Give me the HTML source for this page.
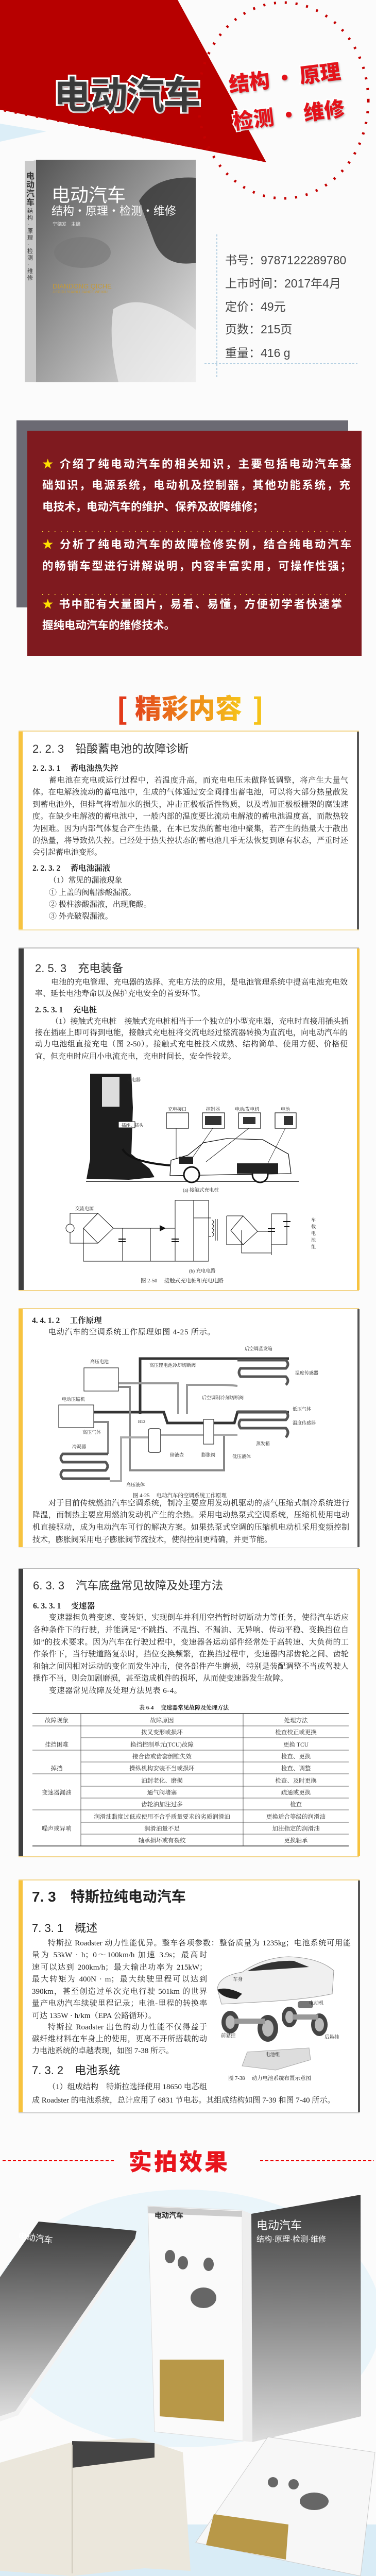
<!DOCTYPE html>
<html><head><meta charset="utf-8">
<style>
*{margin:0;padding:0;box-sizing:border-box}
html,body{width:730px;height:5035px;overflow:hidden;background:#fbfbfb}
#r{width:730px;height:5035px;position:relative;overflow:hidden;background:#fbfbfb;font-family:"Liberation Sans","Noto Sans CJK SC",sans-serif}
.a{position:absolute;white-space:nowrap}
.s{font-family:"Liberation Serif","Noto Serif CJK SC",serif;color:#222}
.t{font-size:15px;line-height:16px;text-align:justify;text-align-last:justify;white-space:nowrap}
.tl{text-align-last:left}
.w{color:#fff;font-weight:bold;font-size:21.5px;text-align-last:justify;text-align:justify;left:82px;width:600px}
.info{left:437px;font-size:23px;color:#444}
.tb{position:absolute;font-family:"Liberation Serif","Noto Serif CJK SC",serif;font-size:11.5px;color:#333;text-align:center}
</style></head><body><div id="r">
<svg class="a" style="left:0;top:0" width="730" height="5035" viewBox="0 0 730 5035">
<defs>
<linearGradient id="bk" x1="0" y1="0" x2="1" y2="1"><stop offset="0" stop-color="#555"/><stop offset=".45" stop-color="#9a9a9a"/><stop offset="1" stop-color="#e8e8e8"/></linearGradient>
<linearGradient id="bk2" x1="0" y1="0" x2="0" y2="1"><stop offset="0" stop-color="#3a3a3a"/><stop offset=".5" stop-color="#8a8a8a"/><stop offset="1" stop-color="#ddd"/></linearGradient>
</defs>
<polygon points="0,240 90,255 0,275" fill="#dceef7"/>
<polygon points="0,0 345,0 517,315 0,213" fill="#b70000"/>
<path d="M8,214 L517,312" stroke="#c40000" stroke-width="5" stroke-dasharray="4,17"/>
<ellipse cx="550" cy="195" rx="165" ry="190" fill="none" stroke="#c40000" stroke-width="5" stroke-dasharray="4,17"/>
<polygon points="48,318 70,310 380,318 380,732 70,742 48,738" fill="#d8d8d8"/>
<rect x="70" y="310" width="310" height="432" fill="url(#bk)"/>
<rect x="48" y="312" width="22" height="430" fill="#c9c9c9"/>
<path d="M270,390 Q300,340 380,345 L380,510 Q320,520 300,470 Z" fill="#2b2b2b" opacity=".75"/>
<path d="M220,600 Q280,560 380,640 L380,742 L230,742 Q210,660 220,600Z" fill="#f1f1f1" opacity=".7"/>
<ellipse cx="160" cy="490" rx="55" ry="30" fill="#777" opacity=".6"/>
<line x1="421" y1="455" x2="421" y2="735" stroke="#6fa6c9" stroke-width="1" stroke-dasharray="4,3"/>
<line x1="397" y1="706" x2="694" y2="706" stroke="#6fa6c9" stroke-width="1" stroke-dasharray="4,3"/>
<rect x="32" y="816" width="644" height="363" fill="#6b6a73"/>
<rect x="53" y="836" width="649" height="437" fill="#7f1a1f"/>
<line x1="82" y1="1032" x2="678" y2="1032" stroke="#f2d03a" stroke-width="2" stroke-dasharray="1.5,10.5"/>
<line x1="82" y1="1154" x2="678" y2="1154" stroke="#f2d03a" stroke-width="2" stroke-dasharray="1.5,10.5"/>
<g>
<rect x="36" y="1420" width="661" height="384" fill="#fff"/><rect x="36" y="1420" width="8" height="384" fill="#f7c340"/><rect x="693" y="1420" width="4" height="384" fill="#555"/>
<rect x="36" y="1418" width="661" height="2" fill="#f3d58a"/><rect x="36" y="1804" width="661" height="2" fill="#f3e1a8"/>
<rect x="36" y="1841" width="661" height="663" fill="#fff"/><rect x="36" y="1841" width="10" height="663" fill="#3f3f3f"/><rect x="693" y="1841" width="5" height="663" fill="#f7c340"/>
<rect x="36" y="1839" width="661" height="2" fill="#bbb"/><rect x="36" y="2504" width="661" height="2" fill="#f3d58a"/>
<rect x="36" y="2541" width="661" height="462" fill="#fff"/><rect x="36" y="2541" width="8" height="462" fill="#f7c340"/><rect x="694" y="2541" width="4" height="462" fill="#555"/>
<rect x="36" y="2539" width="661" height="2" fill="#f3d58a"/><rect x="36" y="3003" width="661" height="2" fill="#eee"/>
<rect x="36" y="3045" width="661" height="558" fill="#fff"/><rect x="36" y="3045" width="9" height="558" fill="#3f3f3f"/><rect x="694" y="3045" width="5" height="558" fill="#f7c340"/>
<rect x="36" y="3043" width="661" height="2" fill="#bbb"/><rect x="36" y="3603" width="661" height="2" fill="#f3d58a"/>
<rect x="36" y="3650" width="662" height="450" fill="#fff"/><rect x="36" y="3650" width="8" height="450" fill="#f7c340"/><rect x="695" y="3650" width="4" height="450" fill="#555"/>
<rect x="36" y="3648" width="662" height="2" fill="#f3d58a"/><rect x="36" y="4100" width="662" height="2" fill="#ccc"/>
</g>
<g stroke="#111" fill="none">
<path d="M175,2084 L255,2084 L258,2150 L255,2240 L290,2268 L300,2285 L250,2290 L168,2288 L175,2250Z" fill="#1d1d1d" stroke="none"/>
<rect x="198" y="2090" width="34" height="58" fill="#ddd" stroke="none"/>
<path d="M238,2230 Q250,2255 330,2262" stroke-width="4"/>
<line x1="167" y1="2293" x2="580" y2="2293" stroke-width="1.5"/>
<rect x="230" y="2177" width="32" height="12" fill="#fff" stroke-width="1"/>
<path d="M330,2282 L332,2252 L365,2242 L395,2218 L440,2210 L510,2212 L560,2240 L565,2278 L330,2282" fill="#fff" stroke-width="1.3"/>
<circle cx="372" cy="2280" r="15" fill="#fff" stroke-width="3"/><circle cx="505" cy="2280" r="15" fill="#fff" stroke-width="3"/>
<rect x="348" y="2245" width="27" height="14" fill="#222" stroke="none"/><rect x="460" y="2258" width="80" height="20" fill="#222" stroke="none"/>
<g fill="#fff" stroke-width="1.2"><rect x="323" y="2160" width="43" height="30"/><rect x="393" y="2160" width="43" height="30"/><rect x="463" y="2160" width="43" height="30"/><rect x="534" y="2160" width="41" height="30"/></g>
<g fill="#333" stroke="none"><rect x="398" y="2166" width="32" height="18"/><rect x="472" y="2168" width="24" height="14"/><rect x="551" y="2166" width="18" height="18"/></g>
<g stroke-width=".8"><line x1="342" y1="2190" x2="342" y2="2250"/><line x1="413" y1="2190" x2="375" y2="2245"/><line x1="483" y1="2190" x2="400" y2="2255"/><line x1="554" y1="2190" x2="520" y2="2258"/></g>
<g stroke-width="1">
<circle cx="136" cy="2384" r="8"/>
<path d="M136,2376 V2355 H190 M136,2392 V2413 H190 M190,2355 L220,2384 L190,2413 L162,2384 Z M162,2384 V2448 H405 M220,2384 H340 M238,2384 V2448 M292,2384 V2448 M340,2384 V2448 M340,2384 V2330 H405 V2448 M376,2330 V2448 M376,2364 H410 M405,2400 H410 M440,2360 V2416 H472 L500,2390 L472,2360 H440 M472,2360 L448,2388 L472,2416 M500,2390 H527 V2356 H557 V2416 H527 V2432 H469 V2388 M527,2356 V2436"/>
<path d="M412,2368 q6,4 0,8 q6,4 0,8 q6,4 0,8 q6,4 0,8 M418,2366 V2408 M422,2366 V2408"/>
</g>
<g fill="#111" stroke="none"><path d="M310,2378 L322,2384 L310,2390Z"/><rect x="230" y="2404" width="14" height="2"/><rect x="230" y="2409" width="14" height="2"/><rect x="333" y="2404" width="14" height="2"/><rect x="333" y="2409" width="14" height="2"/><rect x="520" y="2384" width="14" height="2"/><rect x="520" y="2389" width="14" height="2"/><rect x="550" y="2370" width="14" height="2"/><rect x="552" y="2380" width="10" height="2"/></g>
</g>
<g fill="none">
<path d="M272,2745 V2637 H561" stroke="#333" stroke-width="5"/>
<path d="M182,2741 H318 L325,2762 H455 L461,2741 H561" stroke="#333" stroke-width="5"/>
<path d="M230,2685 H346 V2745 M363,2745 V2688 H430 Q445,2688 461,2690" stroke="#999" stroke-width="4"/>
<path d="M230,2692 H252 V2854 H435 V2785 M182,2760 H210 V2822" stroke="#888" stroke-width="4"/>
<path d="M213,2875 H235 V2790 H290 L295,2785 H461" stroke="#aaa" stroke-width="4"/>
<g stroke="#555" stroke-width="5"><path d="M461,2640 H555 Q563,2648 555,2656 H467 Q461,2664 467,2672 H555 Q563,2680 555,2688"/><path d="M461,2740 H555 Q563,2748 555,2756 H467 Q461,2764 467,2772 H555 Q563,2780 555,2790"/><path d="M210,2822 H122 Q114,2830 122,2838 H205 Q213,2846 205,2854 H122 Q114,2862 122,2870 H213"/></g>
<rect x="163" y="2655" width="67" height="45" fill="#fff" stroke="#333" stroke-width="1.2"/>
<rect x="114" y="2727" width="68" height="44" fill="#fff" stroke="#333" stroke-width="1.2"/>
<rect x="288" y="2773" width="24" height="46" rx="4" fill="#fff" stroke="#333" stroke-width="1.5"/>
<rect x="395" y="2755" width="20" height="48" fill="#fff" stroke="#333" stroke-width="1.2"/>
</g>
<g stroke="#333">
<line x1="63" y1="3326" x2="677" y2="3326" stroke-width="1.5"/><line x1="63" y1="3583" x2="677" y2="3583" stroke-width="1.5"/>
<g stroke-width=".8"><line x1="63" y1="3350" x2="677" y2="3350"/><line x1="157" y1="3373" x2="677" y2="3373"/><line x1="63" y1="3397" x2="677" y2="3397"/><line x1="157" y1="3420" x2="677" y2="3420"/><line x1="63" y1="3443" x2="677" y2="3443"/><line x1="157" y1="3467" x2="677" y2="3467"/><line x1="157" y1="3490" x2="677" y2="3490"/><line x1="63" y1="3513" x2="677" y2="3513"/><line x1="157" y1="3537" x2="677" y2="3537"/><line x1="157" y1="3560" x2="677" y2="3560"/>
<line x1="157" y1="3326" x2="157" y2="3583"/><line x1="472" y1="3326" x2="472" y2="3583"/></g>
</g>
<path d="M422,3860 Q425,3835 470,3828 Q510,3800 560,3798 Q620,3800 648,3825 L645,3870 Q600,3880 520,3885 L430,3890Z" fill="#f0f0f0" stroke="#999"/>
<path d="M480,3826 Q520,3804 570,3806 L600,3818 Z" fill="#333"/>
<path d="M422,3862 Q440,3855 470,3870 L460,3880 Q430,3878 422,3862Z" fill="#222"/>
<g fill="#444"><ellipse cx="447" cy="3925" rx="17" ry="22"/><ellipse cx="520" cy="3937" rx="20" ry="26"/><ellipse cx="562" cy="3915" rx="15" ry="20"/><ellipse cx="620" cy="3930" rx="16" ry="22"/></g>
<g fill="#bbb"><ellipse cx="447" cy="3925" rx="9" ry="13"/><ellipse cx="520" cy="3937" rx="11" ry="16"/><ellipse cx="562" cy="3915" rx="8" ry="12"/><ellipse cx="620" cy="3930" rx="9" ry="13"/></g>
<rect x="455" y="3918" width="60" height="10" fill="#999"/><rect x="568" y="3910" width="50" height="10" fill="#999"/><rect x="578" y="3884" width="30" height="14" rx="5" fill="#777"/>
<polygon points="480,3983 600,3975 603,3998 535,4018 470,4010" fill="#ddd" stroke="#aaa"/>
<line x1="5" y1="4194" x2="225" y2="4194" stroke="#e00" stroke-width="2" stroke-dasharray="6,4"/>
<line x1="505" y1="4194" x2="726" y2="4194" stroke="#e00" stroke-width="2" stroke-dasharray="6,4"/>
<ellipse cx="360" cy="4500" rx="380" ry="250" fill="#eaf5fa"/>
<rect x="0" y="4900" width="730" height="135" fill="#d9ecf6"/>
<polygon points="0,4420 75,4312 265,4330 262,4345 30,4680 0,4690" fill="url(#bk2)"/>
<polygon points="0,4690 30,4680 262,4345 266,4350 35,4688 0,4700" fill="#f2f2f2"/>
<polygon points="287,4282 470,4290 472,4738 300,4720" fill="#fafafa" stroke="#ddd"/>
<polygon points="288,4283 470,4292 470,4303 288,4296" fill="#ccc"/>
<polygon points="470,4290 488,4297 490,4740 472,4738" fill="#eee"/>
<polygon points="488,4297 700,4260 701,4690 490,4740" fill="url(#bk2)"/>
<polygon points="310,4580 435,4580 435,4700 310,4690" fill="#b89848"/>
<g fill="#666"><ellipse cx="330" cy="4380" rx="10" ry="13"/><ellipse cx="355" cy="4392" rx="10" ry="13"/><ellipse cx="405" cy="4395" rx="10" ry="13"/><ellipse cx="395" cy="4460" rx="25" ry="20"/></g>
<polygon points="0,4780 140,4740 260,4732 310,4745 355,4760 370,4990 280,4985 140,5000 0,4990" fill="#ebe7dc"/>
<polygon points="140,4738 300,4742 300,4770 140,4790" fill="#444"/>
<line x1="140" y1="4745" x2="140" y2="4995" stroke="#cfcabc" stroke-width="2"/>
<polygon points="520,4730 728,4760 700,5000 380,4935" fill="#f7f7f7" stroke="#ccc"/>
<polygon points="415,4880 560,4900 555,4968 400,4940" fill="#b89848"/>
<g fill="#666"><ellipse cx="530" cy="4818" rx="10" ry="10"/><ellipse cx="570" cy="4822" rx="10" ry="10"/><ellipse cx="610" cy="4855" rx="28" ry="17"/></g>
</svg>

<div class="a" style="left:104px;top:126px;font-size:73px;font-weight:bold;color:#3a3a3a;letter-spacing:-2px;-webkit-text-stroke:7px #fff;paint-order:stroke fill;text-shadow:2px 3px 3px rgba(0,0,0,.3);font-family:'Noto Sans CJK SC',sans-serif">电动汽车</div>
<div class="a" style="left:444px;top:133px;font-size:40px;font-weight:900;color:#e4121a;-webkit-text-stroke:5px #fff;paint-order:stroke fill;transform:rotate(-7deg);transform-origin:left;text-shadow:1px 2px 3px rgba(0,0,0,.3);font-family:'Noto Sans CJK SC',sans-serif">结构 · 原理</div>
<div class="a" style="left:452px;top:205px;font-size:40px;font-weight:900;color:#e4121a;-webkit-text-stroke:5px #fff;paint-order:stroke fill;transform:rotate(-7deg);transform-origin:left;text-shadow:1px 2px 3px rgba(0,0,0,.3);font-family:'Noto Sans CJK SC',sans-serif">检测 · 维修</div>
<div class="a" style="left:100px;top:350px;font-size:36px;color:#fff;font-family:'Noto Sans CJK SC',sans-serif">电动汽车</div>
<div class="a" style="left:100px;top:392px;font-size:22px;color:#fff;font-family:'Noto Sans CJK SC',sans-serif">结构·原理·检测·维修</div>
<div class="a" style="left:102px;top:428px;font-size:9px;color:#eee">宁德发　主编</div>
<div class="a" style="left:102px;top:548px;font-size:13px;color:#c49a3a">DIANDONG QICHE</div>
<div class="a" style="left:102px;top:564px;font-size:7px;color:#c49a3a">JIEGOU YUANLI JIANCE WEIXIU</div>
<div class="a" style="left:51px;top:334px;font-size:16px;line-height:17px;color:#333;white-space:normal;width:16px;font-weight:bold">电动汽车</div>
<div class="a" style="left:53px;top:404px;font-size:11px;line-height:13px;color:#333;white-space:normal;width:12px">结构·原理·检测·维修</div>
<div class="a info" style="top:486px">书号：9787122289780</div>
<div class="a info" style="top:531px">上市时间：2017年4月</div>
<div class="a info" style="top:576px">定价：49元</div>
<div class="a info" style="top:620px">页数：215页</div>
<div class="a info" style="top:666px">重量：416 g</div>

<div class="a w" style="top:884px"><span style="color:#ffe000">★</span> 介绍了纯电动汽车的相关知识，主要包括电动汽车基</div>
<div class="a w" style="top:925px;width:598px">础知识，电源系统，电动机及控制器，其他功能系统，充</div>
<div class="a w" style="top:967px;text-align-last:left">电技术，电动汽车的维护、保养及故障维修；</div>
<div class="a w" style="top:1040px"><span style="color:#ffe000">★</span> 分析了纯电动汽车的故障检修实例，结合纯电动汽车</div>
<div class="a w" style="top:1082px">的畅销车型进行讲解说明，内容丰富实用，可操作性强；</div>
<div class="a w" style="top:1156px;width:582px"><span style="color:#ffe000">★</span> 书中配有大量图片，易看、易懂，方便初学者快速掌</div>
<div class="a w" style="top:1197px;text-align-last:left">握纯电动汽车的维修技术。</div>

<div class="a" style="left:226px;top:1344px;font-size:56px;font-weight:900;line-height:60px;color:#e23a1a;font-family:'Noto Sans CJK SC',sans-serif">[</div>
<div class="a" style="left:262px;top:1342px;font-size:52px;font-weight:900;line-height:60px;background:linear-gradient(90deg,#e3461c,#f6c41a);-webkit-background-clip:text;color:transparent;font-family:'Noto Sans CJK SC',sans-serif">精彩内容</div>
<div class="a" style="left:490px;top:1344px;font-size:56px;font-weight:900;line-height:60px;color:#f5c21a;font-family:'Noto Sans CJK SC',sans-serif">]</div>

<div class="a" style="left:63px;top:1436px;font-size:22px;color:#333">2. 2. 3　铅酸蓄电池的故障诊断</div>
<div class="a s" style="left:63px;top:1479px;font-size:15.5px;font-weight:bold">2. 2. 3. 1　 蓄电池热失控</div>
<div class="a s t" style="left:95px;top:1507px;width:581px">蓄电池在充电或运行过程中，若温度升高，而充电电压未做降低调整，将产生大量气</div>
<div class="a s t" style="left:63px;top:1530px;width:613px">体。在电解液流动的蓄电池中，生成的气体通过安全阀排出蓄电池，可以将大部分热量散发</div>
<div class="a s t" style="left:63px;top:1554px;width:613px">到蓄电池外，但排气将增加水的损失，冲击正极板活性物质，以及增加正极板栅架的腐蚀速</div>
<div class="a s t" style="left:63px;top:1577px;width:613px">度。在缺少电解液的蓄电池中，一般内部的温度要比流动电解液的蓄电池温度高，而散热较</div>
<div class="a s t" style="left:63px;top:1601px;width:613px">为困难。因为内部气体复合产生热量，在本已发热的蓄电池中聚集，若产生的热量大于散出</div>
<div class="a s t" style="left:63px;top:1624px;width:613px">的热量，将导致热失控。已经处于热失控状态的蓄电池几乎无法恢复到原有状态，严重时还</div>
<div class="a s t tl" style="left:63px;top:1647px">会引起蓄电池变形。</div>
<div class="a s" style="left:63px;top:1673px;font-size:15.5px;font-weight:bold">2. 2. 3. 2　 蓄电池漏液</div>
<div class="a s t tl" style="left:95px;top:1701px">（1）常见的漏液现象</div>
<div class="a s t tl" style="left:95px;top:1725px">① 上盖的阀帽渗酸漏液。</div>
<div class="a s t tl" style="left:95px;top:1748px">② 极柱渗酸漏液，出现爬酸。</div>
<div class="a s t tl" style="left:95px;top:1771px">③ 外壳破裂漏液。</div>

<div class="a" style="left:68px;top:1862px;font-size:22px;color:#333">2. 5. 3　充电装备</div>
<div class="a s t" style="left:99px;top:1899px;width:576px">电池的充电管理、充电器的选择、充电方法的应用，是电池管理系统中提高电池充电效</div>
<div class="a s t tl" style="left:68px;top:1921px">率、延长电池寿命以及保护充电安全的首要环节。</div>
<div class="a s" style="left:68px;top:1948px;font-size:15.5px;font-weight:bold">2. 5. 3. 1　 充电桩</div>
<div class="a s t" style="left:99px;top:1975px;width:576px">（1）接触式充电桩　接触式充电桩相当于一个独立的小型充电器，充电时直接用插头插</div>
<div class="a s t" style="left:68px;top:1997px;width:607px">接在插座上即可得到电能，接触式充电桩将交流电经过整流器转换为直流电，向电动汽车的</div>
<div class="a s t" style="left:68px;top:2019px;width:607px">动力电池组直接充电（图 2-50）。接触式充电桩技术成熟、结构简单、使用方便、价格便</div>
<div class="a s t tl" style="left:68px;top:2043px">宜，但充电时应用小电流充电，充电时间长，安全性较差。</div>
<div class="a s" style="left:246px;top:2089px;font-size:9px">充电器</div>
<div class="a s" style="left:236px;top:2178px;font-size:8.5px">插座、插头</div>
<div class="a s" style="left:326px;top:2146px;font-size:9px">充电接口</div>
<div class="a s" style="left:400px;top:2146px;font-size:9px">控制器</div>
<div class="a s" style="left:456px;top:2146px;font-size:9px">电动/发电机</div>
<div class="a s" style="left:545px;top:2146px;font-size:9px">电池</div>
<div class="a s" style="left:355px;top:2302px;font-size:9.5px">(a) 接触式充电桩</div>
<div class="a s" style="left:146px;top:2339px;font-size:9px">交流电源</div>
<div class="a s" style="left:604px;top:2362px;font-size:9px;line-height:13px;white-space:normal;width:10px">车载电池组</div>
<div class="a s" style="left:367px;top:2459px;font-size:9.5px">(b) 充电电路</div>
<div class="a s" style="left:273px;top:2478px;font-size:10.5px">图 2-50　 接触式充电桩和充电电路</div>

<div class="a s" style="left:62px;top:2551px;font-size:15.5px;font-weight:bold">4. 4. 1. 2　 工作原理</div>
<div class="a s t tl" style="left:94px;top:2578px;letter-spacing:.8px">电动汽车的空调系统工作原理如图 4-25 所示。</div>
<div class="a s" style="left:475px;top:2611px;font-size:9px">后空调蒸发箱</div>
<div class="a s" style="left:175px;top:2636px;font-size:9px">高压电池</div>
<div class="a s" style="left:290px;top:2643px;font-size:9px">高压锂电池冷却切断阀</div>
<div class="a s" style="left:573px;top:2658px;font-size:9px">温度传感器</div>
<div class="a s" style="left:392px;top:2706px;font-size:9px">后空调制冷剂切断阀</div>
<div class="a s" style="left:120px;top:2709px;font-size:9px">电动压缩机</div>
<div class="a s" style="left:568px;top:2728px;font-size:9px">低压气体</div>
<div class="a s" style="left:568px;top:2755px;font-size:9px">温度传感器</div>
<div class="a s" style="left:268px;top:2754px;font-size:8.5px">B12</div>
<div class="a s" style="left:160px;top:2773px;font-size:9px">高压气体</div>
<div class="a s" style="left:497px;top:2795px;font-size:9px">蒸发箱</div>
<div class="a s" style="left:140px;top:2801px;font-size:9px">冷凝器</div>
<div class="a s" style="left:330px;top:2817px;font-size:9px">储液壶</div>
<div class="a s" style="left:391px;top:2817px;font-size:9px">膨胀阀</div>
<div class="a s" style="left:451px;top:2820px;font-size:9px">低压液体</div>
<div class="a s" style="left:245px;top:2875px;font-size:9px">高压液体</div>
<div class="a s" style="left:258px;top:2895px;font-size:10.5px">图 4-25　 电动汽车的空调系统工作原理</div>
<div class="a s t" style="left:94px;top:2910px;width:584px">对于目前传统燃油汽车空调系统，制冷主要应用发动机驱动的蒸气压缩式制冷系统进行</div>
<div class="a s t" style="left:63px;top:2933px;width:615px">降温，而制热主要应用燃油发动机产生的余热。采用电动热泵式空调系统，压缩机使用电动</div>
<div class="a s t" style="left:63px;top:2957px;width:615px">机直接驱动，成为电动汽车可行的解决方案。如果热泵式空调的压缩机电动机采用变频控制</div>
<div class="a s t tl" style="left:63px;top:2981px">技术，膨胀阀采用电子膨胀阀节流技术，使得控制更精确，并更节能。</div>

<div class="a" style="left:64px;top:3060px;font-size:22px;color:#333">6. 3. 3　汽车底盘常见故障及处理方法</div>
<div class="a s" style="left:64px;top:3105px;font-size:15.5px;font-weight:bold">6. 3. 3. 1　 变速器</div>
<div class="a s t" style="left:95px;top:3132px;width:582px">变速器担负着变速、变转矩、实现倒车并利用空挡暂时切断动力等任务，使得汽车适应</div>
<div class="a s t" style="left:64px;top:3156px;width:613px">各种条件下的行驶，并能满足“不跳挡、不乱挡、不漏油、无异响、传动平稳、变换挡位自</div>
<div class="a s t" style="left:64px;top:3180px;width:613px">如”的技术要求。因为汽车在行驶过程中，变速器各运动部件经常处于高转速、大负荷的工</div>
<div class="a s t" style="left:64px;top:3203px;width:613px">作条件下，当行驶道路复杂时，挡位变换频繁，在换挡过程中，变速器内部齿轮之间、齿轮</div>
<div class="a s t" style="left:64px;top:3227px;width:613px">和轴之间因相对运动的变化而发生冲击，使各部件产生磨损，特别是装配调整不当或驾驶人</div>
<div class="a s t tl" style="left:64px;top:3250px">操作不当，则会加剧磨损，甚至造成机件的损坏，从而使变速器发生故障。</div>
<div class="a s t tl" style="left:95px;top:3274px;letter-spacing:.5px">变速器常见故障及处理方法见表 6-4。</div>
<div class="a s" style="left:270px;top:3306px;font-size:11px;font-weight:bold">表 6-4　 变速器常见故障及处理方法</div>
<div class="tb" style="left:63px;top:3331px;width:94px">故障现象</div><div class="tb" style="left:157px;top:3331px;width:315px">故障原因</div><div class="tb" style="left:472px;top:3331px;width:205px">处理方法</div>
<div class="tb" style="left:63px;top:3378px;width:94px">挂挡困难</div>
<div class="tb" style="left:157px;top:3354px;width:315px">拨叉变形或损坏</div><div class="tb" style="left:472px;top:3354px;width:205px">检查校正或更换</div>
<div class="tb" style="left:157px;top:3378px;width:315px">换挡控制单元(TCU)故障</div><div class="tb" style="left:472px;top:3378px;width:205px">更换 TCU</div>
<div class="tb" style="left:63px;top:3424px;width:94px">掉挡</div>
<div class="tb" style="left:157px;top:3401px;width:315px">接合齿或齿套倒锥失效</div><div class="tb" style="left:472px;top:3401px;width:205px">检查、更换</div>
<div class="tb" style="left:157px;top:3424px;width:315px">操纵机构安装不当或损坏</div><div class="tb" style="left:472px;top:3424px;width:205px">检查、调整</div>
<div class="tb" style="left:63px;top:3471px;width:94px">变速器漏油</div>
<div class="tb" style="left:157px;top:3448px;width:315px">油封老化、磨损</div><div class="tb" style="left:472px;top:3448px;width:205px">检查、及时更换</div>
<div class="tb" style="left:157px;top:3471px;width:315px">通气阀堵塞</div><div class="tb" style="left:472px;top:3471px;width:205px">疏通或更换</div>
<div class="tb" style="left:157px;top:3494px;width:315px">齿轮油加注过多</div><div class="tb" style="left:472px;top:3494px;width:205px">检查</div>
<div class="tb" style="left:63px;top:3541px;width:94px">噪声或异响</div>
<div class="tb" style="left:157px;top:3518px;width:315px">润滑油黏度过低或使用不合乎质量要求的劣质润滑油</div><div class="tb" style="left:472px;top:3518px;width:205px">更换适合等级的润滑油</div>
<div class="tb" style="left:157px;top:3541px;width:315px">润滑油量不足</div><div class="tb" style="left:472px;top:3541px;width:205px">加注指定的润滑油</div>
<div class="tb" style="left:157px;top:3564px;width:315px">轴承损坏或有裂纹</div><div class="tb" style="left:472px;top:3564px;width:205px">更换轴承</div>

<div class="a" style="left:62px;top:3660px;font-size:28px;font-weight:bold;color:#222">7. 3　特斯拉纯电动汽车</div>
<div class="a" style="left:62px;top:3725px;font-size:22px;color:#222">7. 3. 1　概述</div>
<div class="a s t" style="left:93px;top:3764px;width:588px">特斯拉 Roadster 动力性能优异。整车各项参数：整备质量为 1235kg；电池系统可用能</div>
<div class="a s t" style="left:62px;top:3787px;width:340px">量为 53kW · h；0～100km/h 加速 3.9s；最高时</div>
<div class="a s t" style="left:62px;top:3811px;width:340px">速可以达到 200km/h；最大输出功率为 215kW；</div>
<div class="a s t" style="left:62px;top:3834px;width:340px">最大转矩为 400N · m；最大续驶里程可以达到</div>
<div class="a s t" style="left:62px;top:3858px;width:340px">390km，甚至创造过单次充电行驶 501km 的世界</div>
<div class="a s t" style="left:62px;top:3881px;width:340px">量产电动汽车续驶里程记录；电池-里程的转换率</div>
<div class="a s t tl" style="left:62px;top:3905px">可达 135W · h/km（EPA 公路循环）。</div>
<div class="a s t" style="left:93px;top:3927px;width:309px">特斯拉 Roadster 出色的动力性能不仅得益于</div>
<div class="a s t" style="left:62px;top:3950px;width:340px">碳纤维材料在车身上的使用，更离不开所搭载的动</div>
<div class="a s t tl" style="left:62px;top:3973px">力电池系统的卓越表现，如图 7-38 所示。</div>
<div class="a" style="left:62px;top:4001px;font-size:22px;color:#222">7. 3. 2　电池系统</div>
<div class="a s t" style="left:93px;top:4043px;width:309px">（1）组成结构　特斯拉选择使用 18650 电芯组</div>
<div class="a s t tl" style="left:62px;top:4069px">成 Roadster 的电池系统，总计应用了 6831 节电芯。其组成结构如图 7-39 和图 7-40 所示。</div>
<div class="a s" style="left:452px;top:3834px;font-size:9.5px">车身</div>
<div class="a s" style="left:600px;top:3880px;font-size:9.5px">电动机</div>
<div class="a s" style="left:429px;top:3943px;font-size:9.5px">前悬挂</div>
<div class="a s" style="left:630px;top:3946px;font-size:9.5px">后悬挂</div>
<div class="a s" style="left:515px;top:3980px;font-size:9.5px">电池组</div>
<div class="a s" style="left:443px;top:4026px;font-size:10.5px">图 7-38　 动力电池系统布置示意图</div>

<div class="a" style="left:250px;top:4160px;font-size:45px;font-weight:900;color:#e8141c;letter-spacing:4px;font-family:'Noto Sans CJK SC',sans-serif">实拍效果</div>
<div class="a" style="left:35px;top:4330px;font-size:17px;color:#fff;transform:rotate(8deg)">电动汽车</div>
<div class="a" style="left:300px;top:4290px;font-size:14px;color:#222;font-weight:bold">电动汽车</div>
<div class="a" style="left:498px;top:4302px;font-size:22px;color:#fff">电动汽车</div>
<div class="a" style="left:498px;top:4335px;font-size:15px;color:#fff">结构·原理·检测·维修</div>
</div></body></html>
